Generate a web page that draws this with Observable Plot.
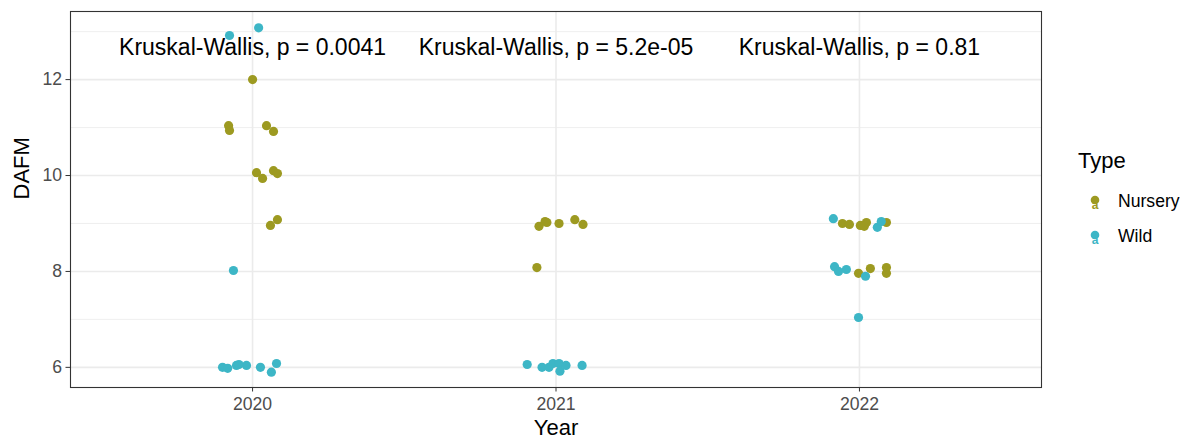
<!DOCTYPE html>
<html>
<head>
<meta charset="utf-8">
<script src="https://cdn.jsdelivr.net/npm/d3@7"></script>
<script src="https://cdn.jsdelivr.net/npm/@observablehq/plot@0.6"></script>
<style>
  html, body { margin: 0; padding: 0; background: #fff; }
  #wrap { position: relative; width: 1197px; height: 442px; font-family: "Liberation Sans", Arial, sans-serif; }
  #legend { position: absolute; left: 0; top: 0; pointer-events: none; }
</style>
</head>
<body>
<div id="wrap"></div>
<script>
// ---- data (jittered positions) ----
const years = [2020, 2021, 2022];
const typeNames = ["Nursery", "Wild"];
const typeColors = ["#9d9a21", "#3db6c6"];
const pValueLabels = ["Kruskal-Wallis, p = 0.0041", "Kruskal-Wallis, p = 5.2e-05", "Kruskal-Wallis, p = 0.81"];
const labelLevel = 12.66;
const yMajorTicks = [6, 8, 10, 12];
const yMinorTicks = [7, 9, 11, 13];

const pointYear = [
  2020,2020,2020,2020,2020,2020,2020,2020,2020,2020,2020,
  2020,2020,2020,2020,2020,2020,2020,2020,2020,2020,2020,
  2021,2021,2021,2021,2021,2021,2021,
  2021,2021,2021,2021,2021,2021,2021,2021,
  2022,2022,2022,2022,2022,2022,2022,2022,2022,2022,
  2022,2022,2022,2022,2022,2022,2022,2022
];
const pointJitter = [
  -0.079,-0.076,0.000,0.046,0.069,0.013,0.033,0.069,0.082,0.059,0.082,
  -0.076,0.020,-0.063,-0.099,-0.082,-0.053,-0.020,0.026,0.062,0.079,-0.045,
  -0.056,-0.036,-0.030,0.010,0.062,0.089,-0.063,
  -0.095,-0.046,-0.023,-0.010,0.010,0.013,0.033,0.086,
  -0.056,-0.033,0.003,0.023,0.016,0.089,-0.003,0.036,0.089,0.089,
  -0.086,0.059,0.072,-0.082,-0.069,-0.043,0.020,-0.003
];
const pointDAFM = [
  11.04,10.94,12.00,11.04,10.92,10.06,9.94,10.10,10.04,8.96,9.08,
  12.92,13.08,8.02,6.00,5.98,6.04,6.04,6.00,5.90,6.08,6.06,
  8.94,9.04,9.02,9.00,9.08,8.98,8.08,
  6.06,6.00,6.00,6.08,6.08,5.92,6.04,6.04,
  9.00,8.98,8.96,9.02,8.94,9.02,7.96,8.06,8.08,7.96,
  9.10,8.92,9.04,8.10,8.00,8.04,7.90,7.04
];
const pointType = [
  "Nursery","Nursery","Nursery","Nursery","Nursery","Nursery","Nursery","Nursery","Nursery","Nursery","Nursery",
  "Wild","Wild","Wild","Wild","Wild","Wild","Wild","Wild","Wild","Wild","Wild",
  "Nursery","Nursery","Nursery","Nursery","Nursery","Nursery","Nursery",
  "Wild","Wild","Wild","Wild","Wild","Wild","Wild","Wild",
  "Nursery","Nursery","Nursery","Nursery","Nursery","Nursery","Nursery","Nursery","Nursery","Nursery",
  "Wild","Wild","Wild","Wild","Wild","Wild","Wild","Wild"
];

const points = pointYear.map((y, i) => ({year: y, jitter: pointJitter[i], dafm: pointDAFM[i], type: pointType[i]}));
const labels = years.map((y, i) => ({year: y, text: pValueLabels[i]}));

const FONT = "'Liberation Sans', Arial, Helvetica, sans-serif";
const GRID = "#ebebeb";

const chart = Plot.plot({
  width: 1197,
  height: 442,
  marginLeft: 70,
  marginRight: 156,
  marginTop: 11,
  marginBottom: 55,
  style: {fontFamily: FONT, fontSize: "17.6px", background: "#fff"},
  x: {domain: [2019.4, 2022.6], axis: null},
  y: {domain: [5.58, 13.42], axis: null},
  color: {domain: typeNames, range: typeColors},
  marks: [
    Plot.ruleY(yMinorTicks, {stroke: GRID, strokeWidth: 0.8}),
    Plot.ruleY(yMajorTicks, {stroke: GRID, strokeWidth: 1.6}),
    Plot.ruleX(years, {stroke: GRID, strokeWidth: 1.6}),
    Plot.dot(points, {x: d => d.year + d.jitter, y: "dafm", fill: "type", r: 4.6, stroke: null}),
    Plot.text(labels, {x: "year", y: () => labelLevel, text: "text", fontSize: 23, fill: "#000", textAnchor: "middle"}),
    Plot.frame({stroke: "#333", strokeWidth: 1.1}),
    Plot.axisX({ticks: years, tickFormat: d => String(d), tickSize: 4.5, tickPadding: 5, fontSize: 17.6, fill: "#4d4d4d", stroke: "#333", label: null}),
    Plot.axisY({ticks: yMajorTicks, tickSize: 4.5, tickPadding: 4, fontSize: 17.6, fill: "#4d4d4d", stroke: "#333", label: null}),
    Plot.text(["DAFM"], {frameAnchor: "left", dx: -49, rotate: -90, fontSize: 22, fill: "#000"}),
    Plot.text(["Year"], {frameAnchor: "bottom", dy: 47, fontSize: 22, fill: "#000"})
  ]
});

const wrap = document.getElementById("wrap");
wrap.appendChild(chart);

// legend (to the right of the panel)
const ns = "http://www.w3.org/2000/svg";
const leg = document.createElementNS(ns, "svg");
leg.setAttribute("id", "legend");
leg.setAttribute("width", 1197);
leg.setAttribute("height", 442);
const title = document.createElementNS(ns, "text");
title.setAttribute("x", 1078);
title.setAttribute("y", 160);
title.setAttribute("dy", "0.35em");
title.setAttribute("font-size", 22);
title.setAttribute("font-family", FONT);
title.textContent = "Type";
leg.appendChild(title);
const rows = [201, 236];
typeNames.forEach((name, i) => {
  const cy = rows[i];
  const a = document.createElementNS(ns, "text");
  a.setAttribute("x", 1095);
  a.setAttribute("y", cy + 8);
  a.setAttribute("text-anchor", "middle");
  a.setAttribute("font-size", 12);
  a.setAttribute("font-weight", "bold");
  a.setAttribute("font-family", FONT);
  a.setAttribute("fill", typeColors[i]);
  a.textContent = "a";
  leg.appendChild(a);
  const c = document.createElementNS(ns, "circle");
  c.setAttribute("cx", 1095);
  c.setAttribute("cy", cy - 1);
  c.setAttribute("r", 4.3);
  c.setAttribute("fill", typeColors[i]);
  leg.appendChild(c);
  const t = document.createElementNS(ns, "text");
  t.setAttribute("x", 1118);
  t.setAttribute("y", cy);
  t.setAttribute("dy", "0.35em");
  t.setAttribute("font-size", 17.6);
  t.setAttribute("font-family", FONT);
  t.setAttribute("fill", "#000");
  t.textContent = name;
  leg.appendChild(t);
});
wrap.appendChild(leg);
</script>
</body>
</html>
